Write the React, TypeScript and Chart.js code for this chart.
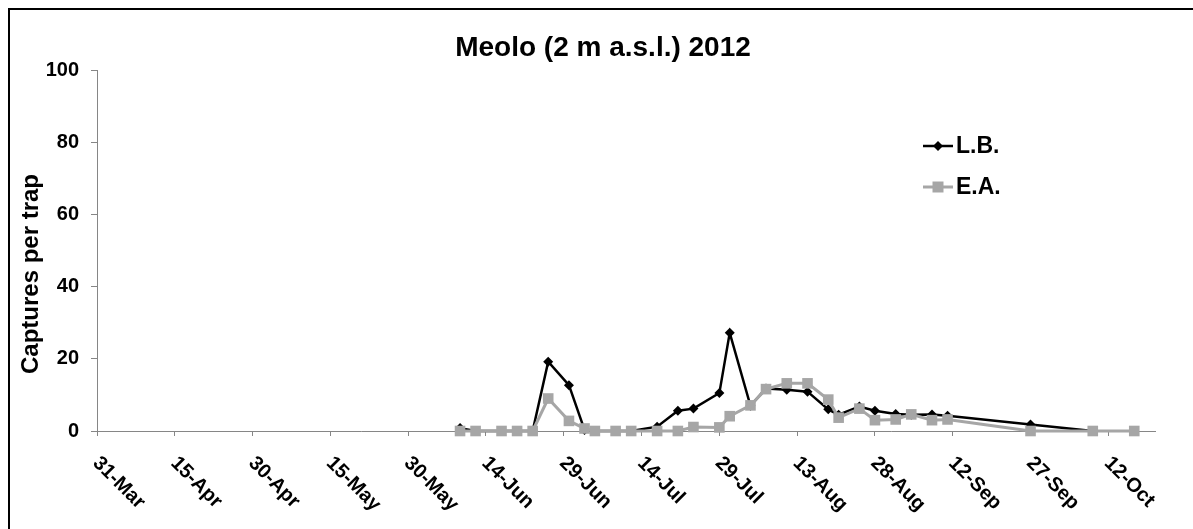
import React, { useEffect, useRef } from "react";
import { Chart, registerables } from "chart.js";

Chart.register(...registerables);

const FONT = "'Liberation Sans', Arial, Helvetica, sans-serif";

const titleText = "Meolo (2 m a.s.l.) 2012";
const yTitleText = "Captures per trap";

const axisStartDate = "2012-03-31";
const axisEndDate = "2012-10-21";
const tickStepDays = 15;
const tickLabels = [
  "31-Mar", "15-Apr", "30-Apr", "15-May", "30-May", "14-Jun", "29-Jun",
  "14-Jul", "29-Jul", "13-Aug", "28-Aug", "12-Sep", "27-Sep", "12-Oct",
];

const sampleDates = [
  "2012-06-09", "2012-06-12", "2012-06-17", "2012-06-20", "2012-06-23",
  "2012-06-26", "2012-06-30", "2012-07-03", "2012-07-05", "2012-07-09",
  "2012-07-12", "2012-07-17", "2012-07-21", "2012-07-24", "2012-07-29",
  "2012-07-31", "2012-08-04", "2012-08-07", "2012-08-11", "2012-08-15",
  "2012-08-19", "2012-08-21", "2012-08-25", "2012-08-28", "2012-09-01",
  "2012-09-04", "2012-09-08", "2012-09-11", "2012-09-27", "2012-10-09",
  "2012-10-17",
];

const lbValues: (number | null)[] = [
  0.8, 0, 0, 0, 0,
  19.2, 12.7, 0.3, 0, 0,
  0, 1.2, 5.6, 6.2, 10.5,
  27.2, 7.0, 11.8, 11.4, 10.9,
  6.0, 4.5, 6.8, 5.6, 4.7,
  4.5, 4.6, 4.2, 1.8, 0,
  null,
];

const eaValues: (number | null)[] = [
  0, 0, 0, 0, 0,
  9.0, 2.8, 0.7, 0, 0,
  0, 0, 0, 1.1, 1.0,
  4.1, 7.1, 11.6, 13.2, 13.2,
  8.7, 3.7, 6.2, 3.0, 3.2,
  4.6, 3.0, 3.2, 0, 0,
  0,
];

const yMin = 0;
const yMax = 100;
const yStep = 20;

const lbColor = "#000000";
const eaColor = "#A6A6A6";
const axisColor = "#868686";

function dayOffset(d: string): number {
  return Math.round((Date.parse(d) - Date.parse(axisStartDate)) / 86400000);
}

const decorPlugin = {
  id: "decor",
  afterDraw(chart: any) {
    const ctx: CanvasRenderingContext2D = chart.ctx;
    const xs = chart.scales.x;
    const area = chart.chartArea;
    ctx.save();

    // frame (left and top edges visible)
    ctx.fillStyle = "#000";
    ctx.fillRect(8, 8, chart.width - 8, 2);
    ctx.fillRect(8, 8, 2, chart.height - 8);

    // title
    ctx.fillStyle = "#000";
    ctx.font = `bold 28px ${FONT}`;
    ctx.textAlign = "center";
    ctx.textBaseline = "alphabetic";
    ctx.fillText(titleText, 603, 56);

    // y title
    ctx.save();
    ctx.translate(38, 274);
    ctx.rotate(-Math.PI / 2);
    ctx.font = `bold 24px ${FONT}`;
    ctx.textAlign = "center";
    ctx.textBaseline = "alphabetic";
    ctx.fillText(yTitleText, 0, 0);
    ctx.restore();

    // x tick labels (rotated, reading downward)
    ctx.font = `bold 20px ${FONT}`;
    xs.ticks.forEach((t: any, i: number) => {
      const px = xs.getPixelForValue(t.value);
      ctx.save();
      ctx.translate(px - 1, area.bottom + 29);
      ctx.rotate(Math.PI / 4);
      ctx.textAlign = "left";
      ctx.textBaseline = "middle";
      ctx.fillText(tickLabels[i] ?? "", 0, 0);
      ctx.restore();
    });

    // legend
    const lx0 = 923;
    const lx1 = 953;
    const rows = [
      { y: 146, color: lbColor, width: 2.5, label: "L.B.", style: "diamond" },
      { y: 187, color: eaColor, width: 3, label: "E.A.", style: "square" },
    ];
    ctx.font = `bold 23px ${FONT}`;
    ctx.textAlign = "left";
    ctx.textBaseline = "middle";
    rows.forEach((r) => {
      ctx.strokeStyle = r.color;
      ctx.lineWidth = r.width;
      ctx.beginPath();
      ctx.moveTo(lx0, r.y);
      ctx.lineTo(lx1, r.y);
      ctx.stroke();
      const cx = (lx0 + lx1) / 2;
      ctx.fillStyle = r.color;
      ctx.beginPath();
      if (r.style === "diamond") {
        ctx.moveTo(cx - 5, r.y);
        ctx.lineTo(cx, r.y - 5);
        ctx.lineTo(cx + 5, r.y);
        ctx.lineTo(cx, r.y + 5);
        ctx.closePath();
      } else {
        ctx.rect(cx - 5.5, r.y - 5.5, 11, 11);
      }
      ctx.fill();
      ctx.fillStyle = "#000";
      ctx.fillText(r.label, lx1 + 3, r.y + 1);
    });

    ctx.restore();
  },
};

export default function App() {
  const canvasRef = useRef<HTMLCanvasElement | null>(null);

  useEffect(() => {
    const canvas = canvasRef.current;
    if (!canvas) return;

    const lbData = sampleDates
      .map((d, i) => ({ x: dayOffset(d), y: lbValues[i] }))
      .filter((p) => p.y !== null);
    const eaData = sampleDates
      .map((d, i) => ({ x: dayOffset(d), y: eaValues[i] }))
      .filter((p) => p.y !== null);

    const chart = new Chart(canvas, {
      type: "line",
      data: {
        datasets: [
          {
            label: "E.A.",
            data: eaData as any,
            borderColor: eaColor,
            backgroundColor: eaColor,
            borderWidth: 3,
            pointStyle: "rect",
            pointRadius: 7.5,
            pointBorderWidth: 0,
            pointBackgroundColor: eaColor,
            tension: 0,
            clip: false as any,
            order: 0,
          },
          {
            label: "L.B.",
            data: lbData as any,
            borderColor: lbColor,
            backgroundColor: lbColor,
            borderWidth: 2.5,
            pointStyle: "rectRot",
            pointRadius: 5,
            pointBorderWidth: 0,
            pointBackgroundColor: lbColor,
            tension: 0,
            clip: false as any,
            order: 1,
          },
        ],
      },
      options: {
        responsive: false,
        animation: false,
        events: [],
        layout: { padding: { left: 0, top: 70, right: 38, bottom: 0 } },
        plugins: {
          legend: { display: false },
          title: { display: false },
          tooltip: { enabled: false },
        },
        scales: {
          x: {
            type: "linear",
            min: 0,
            max: dayOffset(axisEndDate),
            afterBuildTicks: (s: any) => {
              s.ticks = tickLabels.map((_, i) => ({ value: i * tickStepDays }));
            },
            afterFit: (s: any) => {
              s.height = 98;
            },
            ticks: { display: false },
            grid: {
              drawOnChartArea: false,
              drawTicks: true,
              tickLength: 5,
              color: axisColor,
            },
            border: { color: axisColor, width: 1 },
          },
          y: {
            type: "linear",
            min: yMin,
            max: yMax,
            afterFit: (s: any) => {
              s.width = 97;
            },
            ticks: {
              stepSize: yStep,
              color: "#000",
              padding: 12,
              font: { family: FONT, size: 20, weight: "bold" },
            },
            grid: {
              drawOnChartArea: false,
              drawTicks: true,
              tickLength: 6,
              color: axisColor,
            },
            border: { color: axisColor, width: 1 },
          },
        },
      },
      plugins: [decorPlugin],
    });

    return () => chart.destroy();
  }, []);

  return (
    <div
      style={{
        position: "absolute",
        left: 0,
        top: 0,
        width: 1193,
        height: 529,
        background: "#fff",
      }}
    >
      <canvas ref={canvasRef} width={1193} height={529} style={{ display: "block" }} />
    </div>
  );
}
